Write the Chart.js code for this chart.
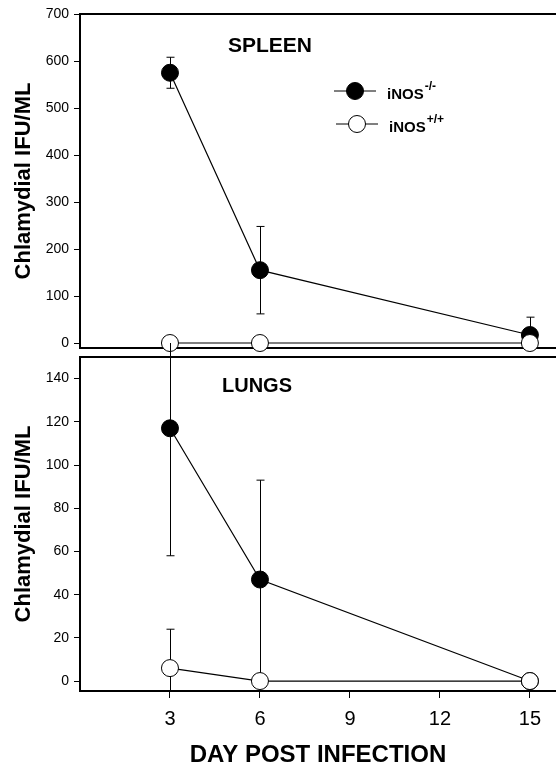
<!DOCTYPE html>
<html><head><meta charset="utf-8">
<script src="https://cdn.jsdelivr.net/npm/chart.js@4/dist/chart.umd.min.js"></script>
<style>
html,body{margin:0;padding:0;background:#fff;}
#wrap{position:relative;width:556px;height:770px;overflow:hidden;background:#fff;}
#c1{position:absolute;left:0;top:0;}
#c2{position:absolute;left:0;top:343px;}
</style></head><body>
<div id="wrap"><canvas id="c1" width="556" height="352"></canvas><canvas id="c2" width="556" height="427"></canvas></div>
<script>
// ---- data ----
const days = [3, 6, 15];
const xTicks = [3, 6, 9, 12, 15];
const spleenKO = [575, 155, 17];
const spleenKOErr = [33, 93, 38];
const spleenWT = [0, 0, 0];
const spleenWTErr = [0, 0, 0];
const lungsKO = [117, 47, 0];
const lungsKOErr = [59, 46, 0];
const lungsWT = [6, 0, 0];
const lungsWTErr = [18, 0, 0];
const spleenTicks = [0, 100, 200, 300, 400, 500, 600, 700];
const lungsTicks = [0, 20, 40, 60, 80, 100, 120, 140];
const yTitle = 'Chlamydial IFU/ML';
const xTitle = 'DAY POST INFECTION';
const legendLabels = [['iNOS', '-/-'], ['iNOS', '+/+']];

const FONT = "'Liberation Sans', Arial, Helvetica, sans-serif";

const errorBars = {
  id: 'errorBars',
  beforeDatasetsDraw(chart) {
    const {ctx, chartArea, scales} = chart;
    ctx.save();
    ctx.beginPath();
    ctx.rect(0, 0, chart.width, chartArea.bottom);
    ctx.clip();
    ctx.strokeStyle = '#000';
    ctx.lineWidth = 1;
    chart.data.datasets.forEach(ds => {
      const errs = ds.errors || [];
      ds.data.forEach((p, i) => {
        const e = errs[i];
        if (!e) return;
        const x = Math.round(scales.x.getPixelForValue(p.x)) + 0.5;
        const yt = scales.y.getPixelForValue(p.y + e);
        const yb = scales.y.getPixelForValue(p.y - e);
        ctx.beginPath();
        ctx.moveTo(x, yt); ctx.lineTo(x, yb);
        ctx.moveTo(x - 4, yt); ctx.lineTo(x + 4, yt);
        ctx.moveTo(x - 4, yb); ctx.lineTo(x + 4, yb);
        ctx.stroke();
      });
    });
    ctx.restore();
  }
};

const frameAndText = {
  id: 'frameAndText',
  afterDraw(chart, args, opts) {
    const {ctx, chartArea} = chart;
    ctx.save();
    ctx.strokeStyle = '#000';
    ctx.lineWidth = 2;
    ctx.beginPath();
    ctx.moveTo(chartArea.left - 1, chartArea.top);
    ctx.lineTo(chartArea.right, chartArea.top);
    ctx.stroke();
    ctx.fillStyle = '#000';
    ctx.textBaseline = 'alphabetic';
    ctx.textAlign = 'left';
    ctx.font = 'bold ' + opts.labelSize + 'px ' + FONT;
    ctx.fillText(opts.label, chartArea.left + opts.labelDx, chartArea.top + opts.labelDy);
    if (opts.legend) {
      opts.legend.forEach((it, k) => {
        const cy = chartArea.top + it.dy;
        const cx = chartArea.left + it.dx;
        ctx.lineWidth = 1;
        ctx.beginPath();
        ctx.moveTo(cx - 21, cy); ctx.lineTo(cx + 21, cy);
        ctx.stroke();
        ctx.beginPath();
        ctx.arc(cx, cy, 8.5, 0, Math.PI * 2);
        ctx.fillStyle = it.fill; ctx.fill();
        ctx.stroke();
        ctx.fillStyle = '#000';
        ctx.font = 'bold 15px ' + FONT;
        const tx = cx + 32;
        ctx.fillText(legendLabels[k][0], tx, cy + 8);
        const w = ctx.measureText(legendLabels[k][0]).width;
        ctx.font = 'bold 12px ' + FONT;
        ctx.fillText(legendLabels[k][1], tx + w + 1, cy - 1);
      });
    }
    ctx.restore();
  }
};

function pts(vals) { return vals.map((v, i) => ({x: days[i], y: v})); }

function makeChart(id, opt) {
  return new Chart(document.getElementById(id), {
    type: 'line',
    data: {
      datasets: [
        {data: pts(opt.wt), errors: opt.wtErr, borderColor: '#000', borderWidth: 1.2,
         pointRadius: 8.5, pointBackgroundColor: '#fff', pointBorderColor: '#000', pointBorderWidth: 1, clip: false},
        {data: pts(opt.ko), errors: opt.koErr, borderColor: '#000', borderWidth: 1.2,
         pointRadius: 8.5, pointBackgroundColor: '#000', pointBorderColor: '#000', pointBorderWidth: 1, clip: false}
      ]
    },
    options: {
      responsive: false,
      animation: false,
      events: [],
      layout: {padding: opt.padding, autoPadding: false},
      plugins: {
        legend: {display: false},
        tooltip: {enabled: false},
        frameAndText: opt.text
      },
      scales: {
        x: {
          type: 'linear', min: 0, max: 15.87,
          afterBuildTicks: s => { s.ticks = xTicks.map(v => ({value: v})); },
          afterFit: s => { s.height = opt.xHeight; s.paddingLeft = 0; s.paddingRight = 0; },
          grid: {display: opt.showX, drawOnChartArea: false, drawTicks: true, tickLength: 7, color: '#000', lineWidth: 1},
          border: {display: true, color: '#000', width: 2},
          ticks: {display: opt.showX, color: '#000', padding: 9, maxRotation: 0, font: {family: FONT, size: 20}},
          title: {display: opt.showX, text: xTitle, color: '#000', padding: {top: 0, bottom: 0},
                  font: {family: FONT, size: 24, weight: 'bold'}}
        },
        y: {
          type: 'linear', min: opt.ymin, max: opt.ymax,
          afterBuildTicks: s => { s.ticks = opt.yTicks.map(v => ({value: v})); },
          afterFit: s => { s.width = 80; s.paddingTop = 0; s.paddingBottom = 0; },
          grid: {display: true, drawOnChartArea: false, drawTicks: true, tickLength: 6, color: '#000', lineWidth: 1},
          border: {display: true, color: '#000', width: 2},
          ticks: {color: '#000', padding: 5, font: {family: FONT, size: 14}},
          title: {display: true, text: yTitle, color: '#000', padding: {top: 11, bottom: 0},
                  font: {family: FONT, size: 22, weight: 'bold'}}
        }
      }
    },
    plugins: [errorBars, frameAndText]
  });
}

makeChart('c1', {
  ko: spleenKO, koErr: spleenKOErr, wt: spleenWT, wtErr: spleenWTErr,
  ymin: -10.6, ymax: 700, yTicks: spleenTicks,
  padding: {top: 14, bottom: 4, left: 0, right: 0},
  xHeight: 0, showX: false,
  text: {label: 'SPLEEN', labelSize: 21, labelDx: 148, labelDy: 38,
         legend: [{dx: 275, dy: 77, fill: '#000'}, {dx: 277, dy: 110, fill: '#fff'}]}
});

makeChart('c2', {
  ko: lungsKO, koErr: lungsKOErr, wt: lungsWT, wtErr: lungsWTErr,
  ymin: -4.6, ymax: 150, yTicks: lungsTicks,
  padding: {top: 14, bottom: 0, left: 0, right: 0},
  xHeight: 79, showX: true,
  text: {label: 'LUNGS', labelSize: 20, labelDx: 142, labelDy: 35, legend: null}
});
</script>
</body></html>
